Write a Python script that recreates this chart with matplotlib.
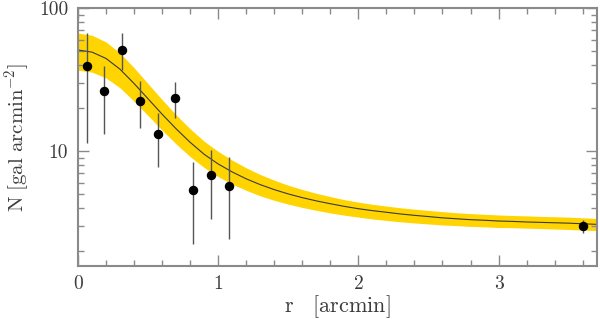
import numpy as np
from matplotlib import pyplot as plt
from matplotlib import ticker

plt.rcParams['font.family'] = 'serif'
plt.rcParams['font.serif'] = ['cmr10', 'DejaVu Serif']
plt.rcParams['mathtext.fontset'] = 'cm'
plt.rcParams['axes.unicode_minus'] = False

# binned galaxy density profile
r_pts = [0.062, 0.188, 0.314, 0.442, 0.568, 0.695, 0.822, 0.950, 1.078, 3.60]
n_pts = [39.6, 26.5, 51.3, 22.5, 13.2, 23.6, 5.33, 6.76, 5.71, 2.97]
n_hi = [67.0, 39.6, 67.0, 30.8, 18.4, 30.3, 8.41, 10.2, 9.04, 3.28]
n_lo = [11.4, 13.1, 37.0, 14.4, 7.76, 16.9, 2.22, 3.34, 2.40, 2.65]

# fitted profile and its 1-sigma band, read every 0.1 arcmin
r_fit = [0.0, 0.1, 0.2, 0.3, 0.4, 0.5, 0.6, 0.7, 0.8, 0.9,
         1.0, 1.1, 1.2, 1.3, 1.4, 1.5, 1.6, 1.7, 1.8, 1.9,
         2.0, 2.1, 2.2, 2.3, 2.4, 2.5, 2.6, 2.7, 2.8, 2.9,
         3.0, 3.1, 3.2, 3.3, 3.4, 3.5, 3.6, 3.7]
n_fit = [51.0, 49.3, 44.5, 37.4, 29.7, 23.2, 18.1, 14.3, 11.5, 9.48,
         8.11, 7.13, 6.38, 5.81, 5.36, 5.00, 4.71, 4.47, 4.27, 4.09,
         3.94, 3.82, 3.72, 3.62, 3.54, 3.47, 3.40, 3.35, 3.30, 3.27,
         3.23, 3.21, 3.18, 3.16, 3.14, 3.12, 3.09, 3.06]
band_hi = [67.1, 64.7, 58.1, 48.5, 38.3, 29.6, 22.9, 17.9, 14.3, 11.7,
           9.93, 8.63, 7.62, 6.84, 6.24, 5.75, 5.37, 5.05, 4.79, 4.56,
           4.38, 4.23, 4.11, 4.00, 3.91, 3.83, 3.76, 3.69, 3.64, 3.60,
           3.56, 3.53, 3.51, 3.48, 3.46, 3.44, 3.40, 3.37]
band_lo = [36.8, 35.7, 32.5, 27.7, 22.3, 17.7, 14.0, 11.2, 9.14, 7.66,
           6.61, 5.86, 5.30, 4.85, 4.51, 4.24, 4.02, 3.84, 3.68, 3.55,
           3.44, 3.34, 3.26, 3.19, 3.13, 3.08, 3.03, 3.00, 2.96, 2.94,
           2.91, 2.90, 2.88, 2.86, 2.84, 2.82, 2.79, 2.77]

frame = '#8a8a8a'
txt = '#3c3c3c'

fig = plt.figure(figsize=(6.0, 3.19), dpi=100)
ax = fig.add_axes([0.13, 0.167, 0.8645, 0.807])

ax.fill_between(r_fit, band_lo, band_hi, color='#ffd400', lw=0)
ax.plot(r_fit, n_fit, color='#3a3a3a', lw=0.8)

y = np.array(n_pts)
yerr = [y - np.array(n_lo), np.array(n_hi) - y]
ax.errorbar(r_pts, n_pts, yerr=yerr, fmt='o', color='black', ms=5.8,
            ecolor='#555555', elinewidth=1.0, capsize=0)

ax.set_yscale('log')
ax.set_xlim(0, 3.70)
ax.set_ylim(1.57, 100)

ax.set_xticks([0, 1, 2, 3])
ax.set_xticklabels(['0', '1', '2', '3'])
ax.xaxis.set_minor_locator(ticker.MultipleLocator(0.2))
ax.set_yticks([10, 100])
ax.set_yticklabels(['10', '100'])
ax.yaxis.set_minor_locator(ticker.LogLocator(base=10, subs=np.arange(2, 10)))
ax.yaxis.set_minor_formatter(ticker.NullFormatter())

ax.tick_params(which='both', direction='in', top=True, right=True,
               color=frame, labelcolor=txt, labelsize=14, width=1.0)
ax.tick_params(which='major', length=8, pad=7)
ax.tick_params(which='minor', length=4.5)
for s in ax.spines.values():
    s.set_color(frame)
    s.set_linewidth(1.5)

ax.set_xlabel(r'$\mathrm{r\ \ \ [arcmin]}$', fontsize=16, color=txt, labelpad=0)
ax.set_ylabel(r'$\mathrm{N\ [gal\ arcmin^{-2}]}$', fontsize=15, color=txt, labelpad=5)

fig.savefig('out.png', dpi=100)
